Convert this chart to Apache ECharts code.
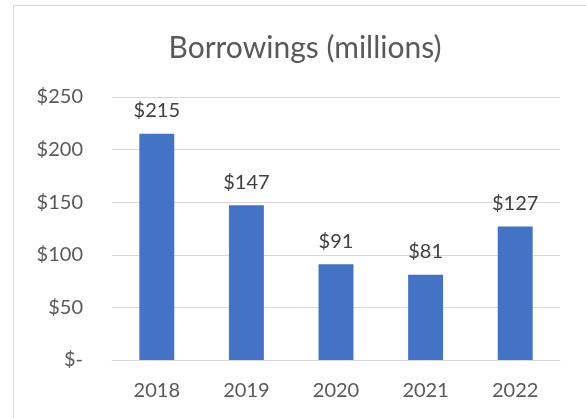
<!DOCTYPE html>
<html>
<head>
<meta charset="utf-8">
<script src="https://cdn.jsdelivr.net/npm/echarts@6/dist/echarts.min.js"></script>
<style>
  html, body { margin: 0; padding: 0; background: #fff; }
  #frame { position: absolute; left: 13px; top: 5px; width: 600px; height: 440px; border: 1px solid #d9d9d9; box-sizing: border-box; }
  #chart { position: absolute; left: 0; top: 0; width: 586px; height: 418px; }
</style>
</head>
<body>
<div id="frame"></div>
<div id="chart"></div>
<script>
// Annual borrowings, in millions of dollars
const years = ['2018', '2019', '2020', '2021', '2022'];
const borrowings = [215, 147, 91, 81, 127];

const FONT = 'Lato, "Open Sans", sans-serif';

const chart = echarts.init(document.getElementById('chart'), null, { renderer: 'canvas' });
chart.setOption({
  animation: false,
  title: {
    text: 'Borrowings (millions)',
    left: 300,
    textAlign: 'center',
    top: 28,
    textStyle: { fontFamily: FONT, fontSize: 30, fontWeight: 'normal', color: '#595959' }
  },
  grid: { left: 112, right: 26, top: 97, bottom: 58, containLabel: false },
  xAxis: {
    type: 'category',
    data: years,
    axisLine: { show: true, lineStyle: { color: '#d9d9d9', width: 1 } },
    axisTick: { show: false },
    axisLabel: { fontFamily: FONT, fontSize: 20, color: '#595959', margin: 21 }
  },
  yAxis: {
    type: 'value',
    min: 0,
    max: 250,
    interval: 50,
    axisLine: { show: false },
    axisTick: { show: false },
    splitLine: { lineStyle: { color: '#d9d9d9', width: 1 } },
    axisLabel: {
      fontFamily: FONT, fontSize: 20, color: '#595959', margin: 29,
      formatter: v => v === 0 ? '$-' : '$' + v
    }
  },
  series: [{
    type: 'bar',
    data: borrowings,
    barWidth: '39%',
    itemStyle: { color: '#4472C4' },
    label: {
      show: true,
      position: 'top',
      distance: 13,
      fontFamily: FONT, fontSize: 20, color: '#404040',
      formatter: p => '$' + p.value
    }
  }]
});
</script>
</body>
</html>
